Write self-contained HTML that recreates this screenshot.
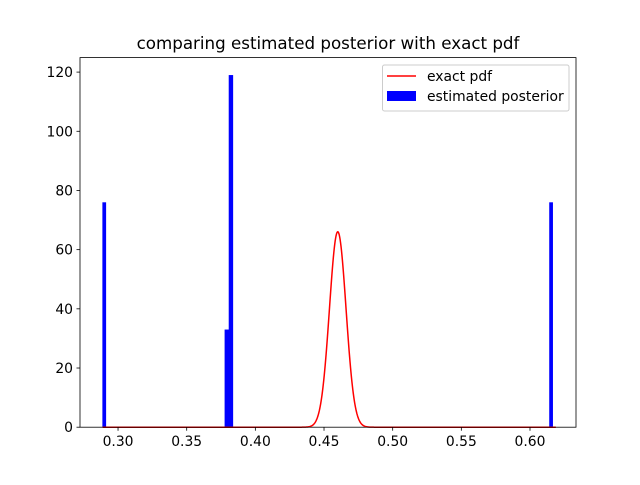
<!DOCTYPE html>
<html><head><meta charset="utf-8"><style>
body{margin:0;background:#fff;}
svg text{font-family:"DejaVu Sans","Liberation Sans",sans-serif;}
</style></head><body>
<svg width="640" height="480" xmlns="http://www.w3.org/2000/svg">
<rect width="640" height="480" fill="#fff"/>
<g id="plot"></g>
<text x="328" y="49" font-size="16.7" text-anchor="middle">comparing estimated posterior with exact pdf</text>
</svg>
<script>
const binLefts = [0.2886, 0.3776, 0.3806, 0.6140];
const binWidths = [0.0025, 0.0030, 0.0030, 0.0025];
const binCounts = [76, 33, 119, 76];
const pdfMean = 0.460;
const pdfSigma = 0.00604;
const xTicks = [0.30, 0.35, 0.40, 0.45, 0.50, 0.55, 0.60];
const xTickLabels = ["0.30","0.35","0.40","0.45","0.50","0.55","0.60"];
const yTicks = [0, 20, 40, 60, 80, 100, 120];
const yTickLabels = ["0","20","40","60","80","100","120"];

const L=80,R=576,T=57.6,B=427.2;
const xmin=0.2723,xmax=0.6335,ymin=0,ymax=124.9;
const xs=v=>L+(v-xmin)/(xmax-xmin)*(R-L);
const ys=v=>B-(v-ymin)/(ymax-ymin)*(B-T);
const NS="http://www.w3.org/2000/svg";
const g=document.getElementById('plot');
function mk(tag,attrs){const e=document.createElementNS(NS,tag);for(const k in attrs)e.setAttribute(k,attrs[k]);g.appendChild(e);return e;}

binLefts.forEach((b,i)=>{
  const r=mk('rect',{x:xs(b),y:ys(binCounts[i]),width:xs(b+binWidths[i])-xs(b)+0.3,height:ys(0)-ys(binCounts[i]),fill:'#0000ff'});
  
  
});
let pts=[];
for(let i=0;i<=1000;i++){const x=0.2888+(0.6188-0.2888)*i/1000;
  const y=Math.exp(-0.5*((x-pdfMean)/pdfSigma)**2)/(pdfSigma*Math.sqrt(2*Math.PI));
  pts.push(xs(x).toFixed(2)+','+ys(y).toFixed(2));}
const pl=mk('polyline',{points:pts.join(' '),fill:'none',stroke:'#ff0000','stroke-width':1.5});



const fr=mk('rect',{x:L,y:T,width:R-L,height:B-T,fill:'none',stroke:'#000','stroke-width':0.8});



xTicks.forEach((t,i)=>{
  mk('line',{x1:xs(t),x2:xs(t),y1:B,y2:B+3.5,stroke:'#000','stroke-width':0.8});
  const tx=mk('text',{x:xs(t),y:B+19,'font-size':13.9,'text-anchor':'middle'});tx.textContent=xTickLabels[i];
  
  
});
yTicks.forEach((t,i)=>{
  mk('line',{x1:L-3.5,x2:L,y1:ys(t),y2:ys(t),stroke:'#000','stroke-width':0.8});
  const tx=mk('text',{x:L-7,y:ys(t)+5,'font-size':13.9,'text-anchor':'end'});tx.textContent=yTickLabels[i];
  
  
});

const lg=mk('rect',{x:382.5,y:65,width:186.5,height:46,rx:2,fill:'#fff','fill-opacity':0.8,stroke:'#ccc','stroke-width':1});


mk('line',{x1:387,x2:416,y1:76,y2:76,stroke:'#ff0000','stroke-width':1.5});
const t1=mk('text',{x:427,y:81,'font-size':13.9});t1.textContent='exact pdf';


mk('rect',{x:387,y:91,width:29,height:10,fill:'#0000ff'});
const t2=mk('text',{x:427,y:101,'font-size':13.9});t2.textContent='estimated posterior';


</script>
</body></html>
